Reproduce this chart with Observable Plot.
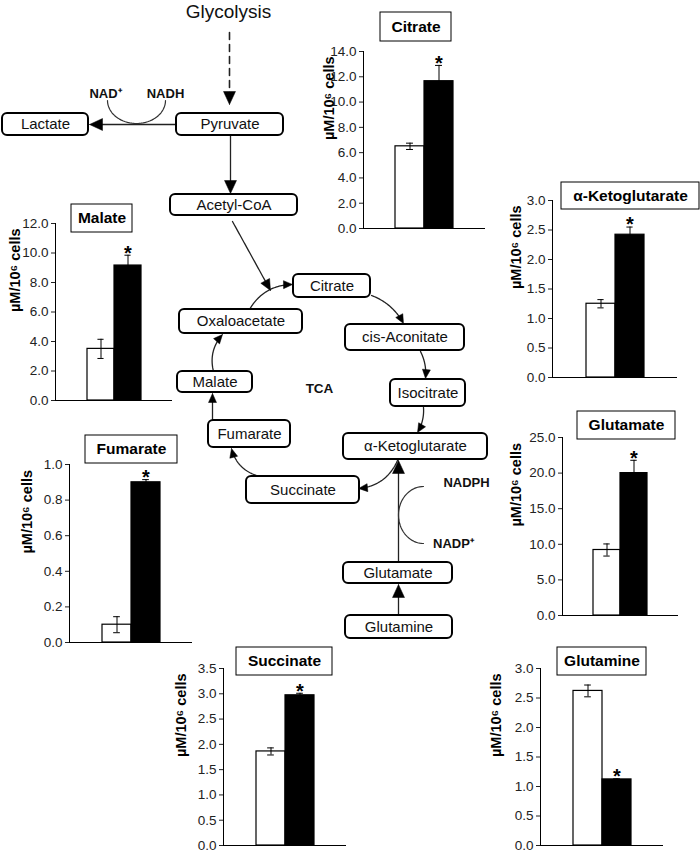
<!DOCTYPE html>
<html><head><meta charset="utf-8">
<script src="https://cdn.jsdelivr.net/npm/d3@7"></script>
<script src="https://cdn.jsdelivr.net/npm/@observablehq/plot@0.6"></script>
<style>
body{margin:0;background:#fff;}
#page{position:relative;width:700px;height:852px;overflow:hidden;font-family:"Liberation Sans",Arial,sans-serif;}
#page svg{position:absolute;}
</style></head><body><div id="page"></div>
<script>
// ---------- DATA ----------
const metabolites = ["Citrate", "Malate", "α-Ketoglutarate", "Fumarate", "Glutamate", "Succinate", "Glutamine"];
const groups = ["Control", "Treated"];
const controlMean = [6.5, 3.5, 1.25, 0.10, 9.2, 1.86, 2.62];
const controlErr  = [0.25, 0.65, 0.07, 0.045, 0.85, 0.07, 0.10];
const treatedMean = [11.65, 9.15, 2.42, 0.90, 20.0, 2.97, 1.12];
const treatedErr  = [1.25, 0.70, 0.13, 0.015, 1.8, 0.04, 0.01];
const significant = [true, true, true, true, true, true, true];
const yMax  = [14, 12, 3, 1, 25, 3.5, 3];
const yStep = [2, 2, 0.5, 0.2, 5, 0.5, 0.5];
const yLabel = "µM/10⁶ cells";

// pathway diagram content
const nodeNames = ["Lactate", "Pyruvate", "Acetyl-CoA", "Citrate", "Oxaloacetate", "cis-Aconitate", "Isocitrate",
  "Malate", "Fumarate", "α-Ketoglutarate", "Succinate", "Glutamate", "Glutamine"];
const cofactorLabels = ["Glycolysis", "NAD⁺", "NADH", "TCA", "NADPH", "NADP⁺"];

// ---------- LAYOUT (page pixels) ----------
const chartFrames = [ // left, right, top, bottom of each panel frame
  [363, 485, 51, 228], [55, 172, 223, 400], [552, 677, 200, 377], [69, 192, 464, 642],
  [562, 678, 437, 615], [223, 346, 668, 845], [540, 663, 668, 845]];
const labelDx = [-34, -40, -36, -42, -46, -42, -44];
const titleBoxes = [[380, 451, 12, 41], [71, 132, 204, 232], [561, 699, 182, 209], [85, 177, 435, 463],
  [577, 675, 411, 439], [236, 332, 647, 675], [557, 646, 647, 675]];
const nodeBoxes = [[2, 88, 113, 135], [176, 283, 113, 135], [170, 297, 194, 215], [293, 370, 274, 297],
  [179, 302, 309, 333], [345, 464, 324, 350], [390, 465, 379, 406], [177, 252, 371, 392],
  [208, 290, 420, 447], [343, 487, 433, 459], [246, 359, 476, 503], [343, 452, 562, 583], [345, 452, 615, 638]];
const labelPos = [[228, 11, 19, "normal"], [105, 93, 13, "bold"], [165, 93, 13, "bold"], [319, 388, 13.5, "bold"],
  [466, 482, 13, "bold"], [453, 543, 13, "bold"]];
const tcaCenter = [318, 392];
const edges = [
  {from: [229, 32], to: [229, 104], head: "big", dash: true},
  {from: [176, 124], to: [89, 124], head: "big"},
  {from: [230, 136], to: [230, 193], head: "big"},
  {from: [232, 221], to: [270, 290], head: "mid"},
  {from: [249, 309], to: [292, 284], bend: 7, head: "small"},
  {from: [371, 295], to: [403, 323], bend: 4, head: "small"},
  {from: [420, 351], to: [425, 378], bend: 2, head: "small"},
  {from: [423, 407], to: [417, 432], bend: 2, head: "small"},
  {from: [397, 460], to: [358, 488], bend: 7, head: "small"},
  {from: [256, 475], to: [231, 448], bend: 5, head: "small"},
  {from: [212, 420], to: [212, 393], head: "small"},
  {from: [213, 371], to: [222, 334], bend: 5, head: "small"},
  {from: [398, 562], to: [398, 460], head: "big"},
  {from: [398, 615], to: [398, 584], head: "big"}];
const ellipses = [ // cx, cy, rx, ry, t0, t1
  [136, 100, 29, 23, 0, Math.PI], [423, 514.5, 25, 28.5, Math.PI / 2, 1.5 * Math.PI]];
const headSize = {big: [13, 12], mid: [11, 10], small: [9, 8]};

const FONT = '"Liberation Sans", Arial, sans-serif';
const page = document.getElementById("page");
const padOuter = 1.1;

// ---------- BAR PANELS ----------
metabolites.forEach((name, i) => {
  const [L, R, T, B] = chartFrames[i];
  const mL = 62, mR = 6, mT = 26, mB = 6;
  const rows = groups.map((g, j) => ({
    group: g,
    mean: j ? treatedMean[i] : controlMean[i],
    err: j ? treatedErr[i] : controlErr[i],
    sig: j === 1 && significant[i]
  }));
  const step = (R - L) / (groups.length + 2 * padOuter);
  const capInset = (step - 7) / 2;
  const ticks = d3.range(0, yMax[i] + yStep[i] / 2, yStep[i]);
  const svg = Plot.plot({
    width: R - L + mL + mR, height: B - T + mT + mB,
    marginLeft: mL, marginRight: mR, marginTop: mT, marginBottom: mB,
    style: {fontFamily: FONT, fontSize: "13.5px", background: "transparent", overflow: "visible"},
    x: {domain: groups, paddingInner: 0, paddingOuter: padOuter, axis: null},
    y: {domain: [0, yMax[i]], axis: null},
    marks: [
      Plot.barY(rows.filter(d => d.group === "Control"), {x: "group", y: "mean", fill: "white", stroke: "black", strokeWidth: 1.2}),
      Plot.barY(rows.filter(d => d.group !== "Control"), {x: "group", y: "mean", fill: "black", stroke: "black", strokeWidth: 1.2}),
      Plot.ruleX(rows, {x: "group", y1: d => d.mean - d.err, y2: d => d.mean + d.err, stroke: "black", strokeWidth: 1}),
      Plot.tickY(rows, {x: "group", y: d => d.mean + d.err, insetLeft: capInset, insetRight: capInset, strokeWidth: 1}),
      Plot.tickY(rows, {x: "group", y: d => d.mean - d.err, insetLeft: capInset, insetRight: capInset, strokeWidth: 1}),
      Plot.text(rows.filter(d => d.sig), {x: "group", y: d => d.mean + d.err, text: () => "*", fontSize: 20, fontWeight: "bold", dy: -2}),
      Plot.axisY({ticks, tickFormat: d3.format(".1f"), tickSize: 4, tickPadding: 3, label: null, fontSize: 13.5, color: "#222"}),
      Plot.frame({anchor: "left", strokeWidth: 1}),
      Plot.ruleY([0], {strokeWidth: 1}),
      Plot.text([yLabel], {text: d => d, frameAnchor: "left", rotate: -90, dx: labelDx[i], fontSize: 14.5, fontWeight: "bold"})
    ]
  });
  svg.style.left = (L - mL) + "px";
  svg.style.top = (T - mT) + "px";
  page.appendChild(svg);
});

// ---------- PATHWAY DIAGRAM (on top) ----------
function edgeGeometry(e, k) {
  const [x0, y0] = e.from, [x2, y2] = e.to;
  const mx = (x0 + x2) / 2, my = (y0 + y2) / 2;
  const len = Math.hypot(x2 - x0, y2 - y0);
  let nx = -(y2 - y0) / len, ny = (x2 - x0) / len;
  if (nx * (mx - tcaCenter[0]) + ny * (my - tcaCenter[1]) < 0) { nx = -nx; ny = -ny; }
  const b = e.bend || 0;
  const cx = mx + nx * 2 * b, cy = my + ny * 2 * b;
  let ux = x2 - cx, uy = y2 - cy;
  const ul = Math.hypot(ux, uy); ux /= ul; uy /= ul;
  const [hl, hw] = headSize[e.head];
  const bx = x2 - ux * hl, by = y2 - uy * hl;
  const pts = [];
  for (let s = 0; s <= 40; s++) {
    const t = s / 40;
    const px = (1 - t) * (1 - t) * x0 + 2 * (1 - t) * t * cx + t * t * x2;
    const py = (1 - t) * (1 - t) * y0 + 2 * (1 - t) * t * cy + t * t * y2;
    if (Math.hypot(px - x2, py - y2) > hl * 0.8) pts.push({id: k, x: px, y: py});
  }
  pts.push({id: k, x: x2 - ux * hl * 0.8, y: y2 - uy * hl * 0.8});
  const head = [
    {id: k, x: x2, y: y2},
    {id: k, x: bx - uy * hw / 2, y: by + ux * hw / 2},
    {id: k, x: bx + uy * hw / 2, y: by - ux * hw / 2},
    {id: k, x: x2, y: y2}];
  return {pts, head, dash: !!e.dash};
}
const geo = edges.map(edgeGeometry);
const solidPts = geo.filter(g => !g.dash).flatMap(g => g.pts);
const dashPts = geo.filter(g => g.dash).flatMap(g => g.pts);
const headPts = geo.flatMap(g => g.head);
const arcPts = ellipses.flatMap(([cx, cy, rx, ry, t0, t1], k) =>
  d3.range(0, 41).map(s => {
    const t = t0 + (t1 - t0) * s / 40;
    return {id: k, x: cx + rx * Math.cos(t), y: cy + ry * Math.sin(t)};
  }));
const nodes = nodeNames.map((name, i) => ({name, x1: nodeBoxes[i][0], x2: nodeBoxes[i][1], y1: nodeBoxes[i][2], y2: nodeBoxes[i][3]}));
const titles = metabolites.map((name, i) => ({name, x1: titleBoxes[i][0], x2: titleBoxes[i][1], y1: titleBoxes[i][2], y2: titleBoxes[i][3]}));
const labels = cofactorLabels.map((text, i) => ({text, x: labelPos[i][0], y: labelPos[i][1], size: labelPos[i][2], weight: labelPos[i][3]}));

const overlay = Plot.plot({
  width: 700, height: 852, margin: 0,
  style: {fontFamily: FONT, background: "transparent"},
  x: {type: "identity", axis: null}, y: {type: "identity", axis: null},
  marks: [
    Plot.line(solidPts, {x: "x", y: "y", z: "id", stroke: "#222", strokeWidth: 1.3}),
    Plot.line(dashPts, {x: "x", y: "y", z: "id", stroke: "#222", strokeWidth: 1.6, strokeDasharray: "7,5"}),
    Plot.line(arcPts, {x: "x", y: "y", z: "id", stroke: "#333", strokeWidth: 1.2}),
    Plot.rect(nodes, {x1: "x1", x2: "x2", y1: "y1", y2: "y2", rx: 5, fill: "white", stroke: "black", strokeWidth: 2}),
    Plot.text(nodes, {x: d => (d.x1 + d.x2) / 2, y: d => (d.y1 + d.y2) / 2, text: "name", fontSize: 15, fill: "#111"}),
    Plot.line(headPts, {x: "x", y: "y", z: "id", fill: "black", stroke: "black", strokeWidth: 0.5}),
    ...labels.map(l => Plot.text([l], {x: "x", y: "y", text: "text", fontSize: l.size, fontWeight: l.weight, fill: "#111"})),
    Plot.rect(titles, {x1: "x1", x2: "x2", y1: "y1", y2: "y2", fill: "white", stroke: "black", strokeWidth: 1}),
    Plot.text(titles, {x: d => (d.x1 + d.x2) / 2, y: d => (d.y1 + d.y2) / 2, text: "name", fontSize: 15.5, fontWeight: "bold"})
  ]
});
overlay.style.left = "0px";
overlay.style.top = "0px";
overlay.style.pointerEvents = "none";
page.appendChild(overlay);
</script></body></html>
